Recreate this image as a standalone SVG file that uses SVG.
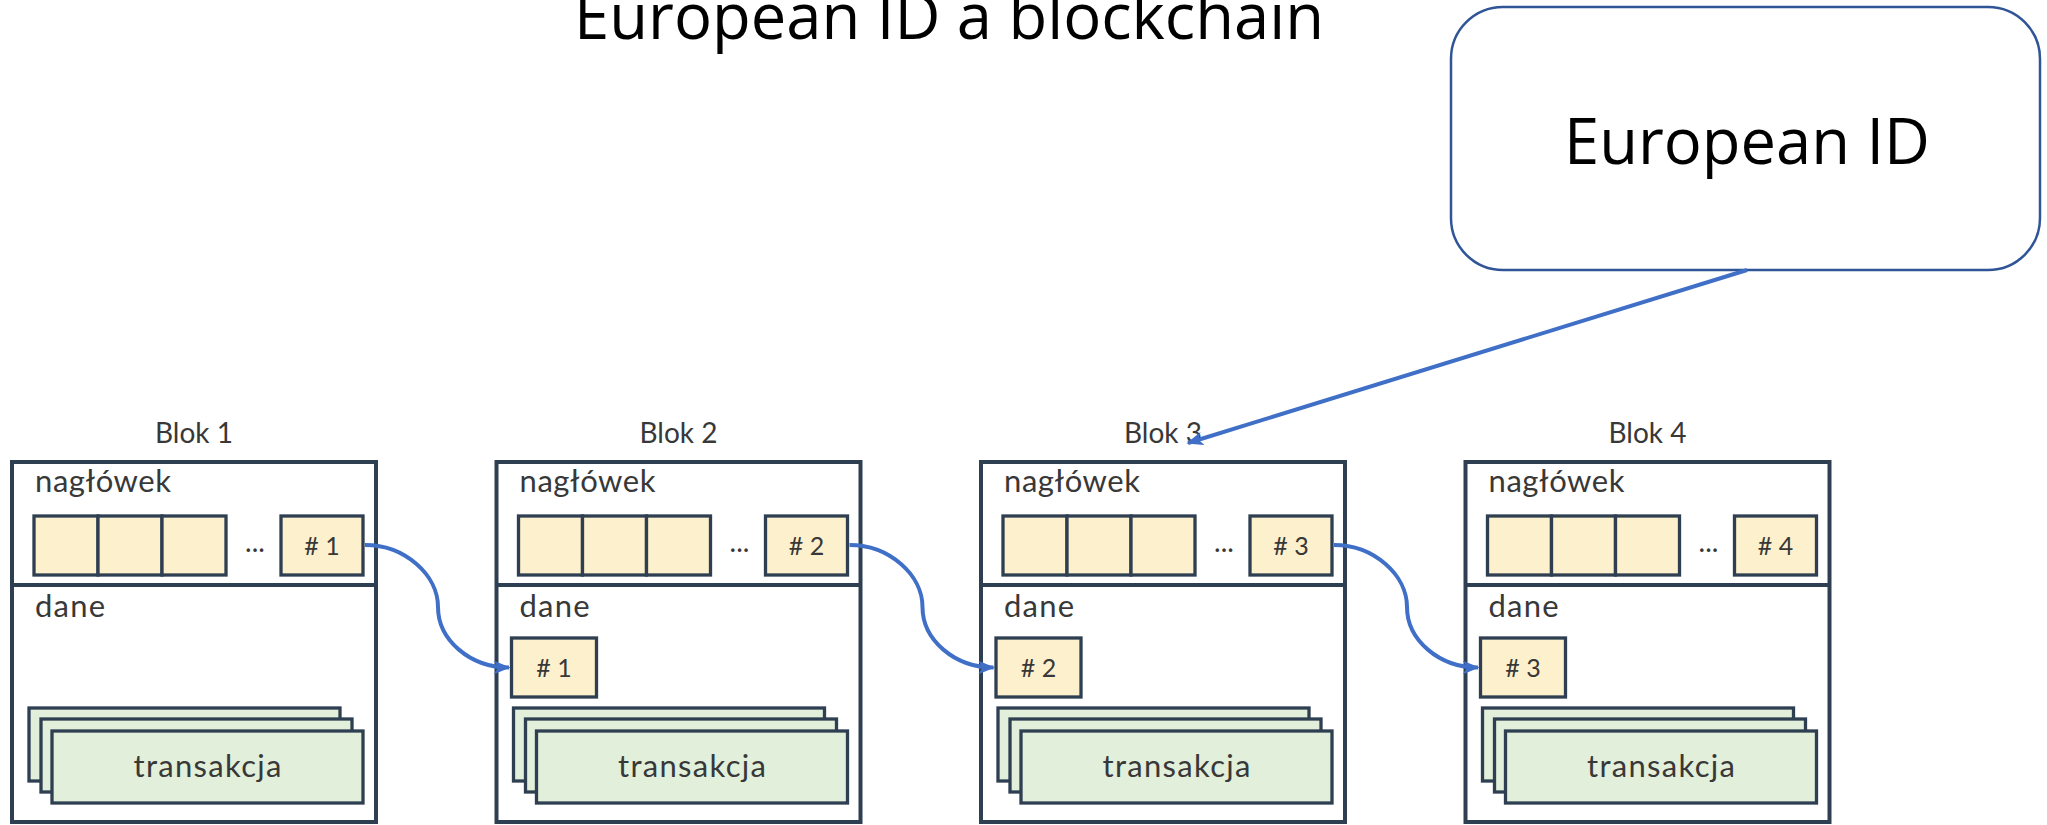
<svg xmlns="http://www.w3.org/2000/svg" width="2047" height="825" viewBox="0 0 2047 825">
<defs>
<style>
.bg{fill:#ffffff}
.box{fill:#ffffff;stroke:#2e3f52;stroke-width:4}
.div{stroke:#2e3f52;stroke-width:4}
.cell{fill:#fdf0cc;stroke:#2e3f52;stroke-width:3.3}
.tx{fill:#e2efda;stroke:#2e3f52;stroke-width:3.3}
.lbl{font-family:Lato,"Noto Sans","DejaVu Sans",sans-serif;font-weight:400;fill:#383838}
.ttl{font-size:28px;text-anchor:middle}
.sec{font-size:31px}
.hash{font-size:25px;text-anchor:middle}
.dots{font-size:28px;text-anchor:middle}
.txl{font-size:31px;text-anchor:middle}
.big{font-family:"Open Sans","Liberation Sans",sans-serif;font-size:64px;fill:#000000;text-anchor:middle}
.conn{fill:none;stroke:#3f6fc6;stroke-width:4}
.eid{fill:#ffffff;stroke:#2f5597;stroke-width:2.5}
</style>
<marker id="arr" viewBox="0 0 10 8" refX="9" refY="4" markerWidth="4.2" markerHeight="3.4" orient="auto" markerUnits="strokeWidth">
<path d="M0,0 L10,4 L0,8 L2.5,4 z" fill="#3f6fc6"/>
</marker>
</defs>
<rect class="bg" x="0" y="0" width="2047" height="825"/>

<g id="title">
<text class="big" x="949" y="39" textLength="750" lengthAdjust="spacingAndGlyphs">European ID a blockchain</text>
</g>

<g id="european-id">
<rect class="eid" x="1451" y="7" width="589" height="263" rx="52" ry="52"/>
<text class="big" x="1747" y="164" textLength="366" lengthAdjust="spacingAndGlyphs">European ID</text>
</g>

<g id="blok1" transform="translate(12,462)">
<text class="lbl ttl" x="182" y="-19">Blok 1</text>
<rect class="box" x="0" y="0" width="364" height="360"/>
<line class="div" x1="0" y1="123" x2="364" y2="123"/>
<text class="lbl sec" x="23" y="30" textLength="136">nagłówek</text>
<rect class="cell" x="22" y="54" width="64" height="59"/>
<rect class="cell" x="86" y="54" width="64" height="59"/>
<rect class="cell" x="150" y="54" width="64" height="59"/>
<text class="lbl dots" x="243" y="90">...</text>
<rect class="cell" x="269" y="54" width="82" height="59"/>
<text class="lbl hash" x="310" y="93"># 1</text>
<text class="lbl sec" x="23" y="155" textLength="70">dane</text>
<rect class="tx" x="17" y="246" width="311" height="73"/>
<rect class="tx" x="29" y="257" width="311" height="73"/>
<rect class="tx" x="40" y="269" width="311" height="72"/>
<text class="lbl txl" x="195.5" y="315" textLength="148">transakcja</text>
</g>

<g id="blok2" transform="translate(496.5,462)">
<text class="lbl ttl" x="182" y="-19">Blok 2</text>
<rect class="box" x="0" y="0" width="364" height="360"/>
<line class="div" x1="0" y1="123" x2="364" y2="123"/>
<text class="lbl sec" x="23" y="30" textLength="136">nagłówek</text>
<rect class="cell" x="22" y="54" width="64" height="59"/>
<rect class="cell" x="86" y="54" width="64" height="59"/>
<rect class="cell" x="150" y="54" width="64" height="59"/>
<text class="lbl dots" x="243" y="90">...</text>
<rect class="cell" x="269" y="54" width="82" height="59"/>
<text class="lbl hash" x="310" y="93"># 2</text>
<text class="lbl sec" x="23" y="155" textLength="70">dane</text>
<rect class="cell" x="15" y="176" width="85" height="59"/>
<text class="lbl hash" x="57.5" y="215"># 1</text>
<rect class="tx" x="17" y="246" width="311" height="73"/>
<rect class="tx" x="29" y="257" width="311" height="73"/>
<rect class="tx" x="40" y="269" width="311" height="72"/>
<text class="lbl txl" x="195.5" y="315" textLength="148">transakcja</text>
</g>

<g id="blok3" transform="translate(981,462)">
<text class="lbl ttl" x="182" y="-19">Blok 3</text>
<rect class="box" x="0" y="0" width="364" height="360"/>
<line class="div" x1="0" y1="123" x2="364" y2="123"/>
<text class="lbl sec" x="23" y="30" textLength="136">nagłówek</text>
<rect class="cell" x="22" y="54" width="64" height="59"/>
<rect class="cell" x="86" y="54" width="64" height="59"/>
<rect class="cell" x="150" y="54" width="64" height="59"/>
<text class="lbl dots" x="243" y="90">...</text>
<rect class="cell" x="269" y="54" width="82" height="59"/>
<text class="lbl hash" x="310" y="93"># 3</text>
<text class="lbl sec" x="23" y="155" textLength="70">dane</text>
<rect class="cell" x="15" y="176" width="85" height="59"/>
<text class="lbl hash" x="57.5" y="215"># 2</text>
<rect class="tx" x="17" y="246" width="311" height="73"/>
<rect class="tx" x="29" y="257" width="311" height="73"/>
<rect class="tx" x="40" y="269" width="311" height="72"/>
<text class="lbl txl" x="195.5" y="315" textLength="148">transakcja</text>
</g>

<g id="blok4" transform="translate(1465.5,462)">
<text class="lbl ttl" x="182" y="-19">Blok 4</text>
<rect class="box" x="0" y="0" width="364" height="360"/>
<line class="div" x1="0" y1="123" x2="364" y2="123"/>
<text class="lbl sec" x="23" y="30" textLength="136">nagłówek</text>
<rect class="cell" x="22" y="54" width="64" height="59"/>
<rect class="cell" x="86" y="54" width="64" height="59"/>
<rect class="cell" x="150" y="54" width="64" height="59"/>
<text class="lbl dots" x="243" y="90">...</text>
<rect class="cell" x="269" y="54" width="82" height="59"/>
<text class="lbl hash" x="310" y="93"># 4</text>
<text class="lbl sec" x="23" y="155" textLength="70">dane</text>
<rect class="cell" x="15" y="176" width="85" height="59"/>
<text class="lbl hash" x="57.5" y="215"># 3</text>
<rect class="tx" x="17" y="246" width="311" height="73"/>
<rect class="tx" x="29" y="257" width="311" height="73"/>
<rect class="tx" x="40" y="269" width="311" height="72"/>
<text class="lbl txl" x="195.5" y="315" textLength="148">transakcja</text>
</g>

<g id="connectors">
<path class="conn" marker-end="url(#arr)" d="M365,545 C405,545 438,575 438,607 C438,640 470,667.5 509,667.5"/>
<path class="conn" marker-end="url(#arr)" d="M849.5,545 C889.5,545 922.5,575 922.5,607 C922.5,640 954.5,667.5 993.5,667.5"/>
<path class="conn" marker-end="url(#arr)" d="M1334,545 C1374,545 1407,575 1407,607 C1407,640 1439,667.5 1478,667.5"/>
<path class="conn" marker-end="url(#arr)" d="M1747,270 L1188,443"/>
</g>
</svg>
